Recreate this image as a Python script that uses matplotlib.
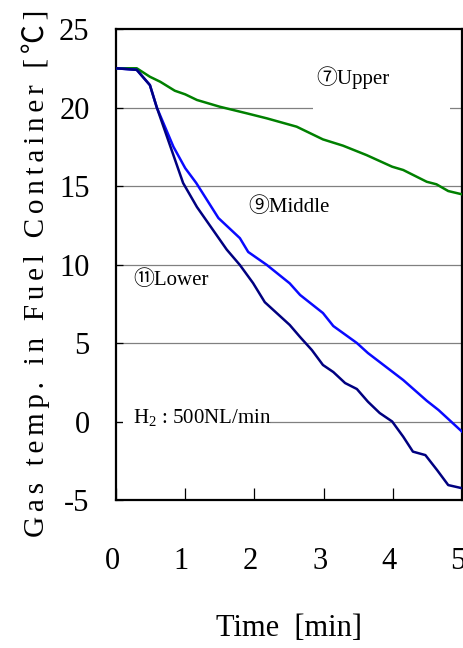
import numpy as np
import matplotlib
matplotlib.use("Agg")
import matplotlib.pyplot as plt
import matplotlib.transforms as mtransforms
from matplotlib.patches import Rectangle

plt.rcParams['font.family'] = ['Liberation Serif', 'DejaVu Sans']
plt.rcParams['mathtext.fontset'] = 'custom'
plt.rcParams['mathtext.rm'] = 'Liberation Serif'
plt.rcParams['mathtext.default'] = 'regular'
plt.rcParams['axes.unicode_minus'] = False

# valeurs (temps en min, temperature en degC)
t_upper = [0, 0.3, 0.49, 0.64, 0.85, 1.0, 1.17, 1.5, 1.89, 2.18, 2.61, 2.99, 3.28,
           3.62, 3.99, 4.15, 4.49, 4.63, 4.8, 5.0]
T_upper = [22.5, 22.5, 21.96, 21.64, 21.07, 20.84, 20.48, 20.05, 19.63, 19.31, 18.78,
           17.97, 17.57, 16.97, 16.23, 16.02, 15.27, 15.11, 14.68, 14.47]

t_middle = [0, 0.3, 0.49, 0.59, 0.83, 1.0, 1.16, 1.48, 1.79, 1.91, 2.18, 2.51, 2.66,
            2.99, 3.14, 3.48, 3.64, 4.15, 4.49, 4.66, 5.0]
T_middle = [22.5, 22.4, 21.43, 20.0, 17.5, 16.14, 15.19, 12.96, 11.68, 10.8, 9.97, 8.8,
            8.06, 6.91, 6.08, 5.0, 4.36, 2.64, 1.32, 0.73, -0.65]

t_lower = [0, 0.3, 0.49, 0.59, 0.97, 1.17, 1.6, 1.79, 1.98, 2.15, 2.51, 2.66, 2.83,
           2.99, 3.14, 3.31, 3.48, 3.64, 3.81, 3.99, 4.15, 4.29, 4.47, 4.64, 4.8, 5.0]
T_lower = [22.5, 22.4, 21.43, 20.0, 15.19, 13.66, 10.95, 9.97, 8.82, 7.6, 6.15, 5.38,
           4.55, 3.6, 3.15, 2.45, 2.07, 1.26, 0.54, 0.0, -0.97, -1.92, -2.14, -3.1,
           -4.05, -4.25]

xticks = [0, 1, 2, 3, 4, 5]
yticks = [-5, 0, 5, 10, 15, 20, 25]

fam = ['Liberation Serif', 'Noto Sans CJK JP', 'DejaVu Sans']

fig = plt.figure(figsize=(4.63, 6.48), dpi=100)
ax = fig.add_axes([0.2505, 0.2284, 0.7475, 0.7268])

for y in yticks[1:-1]:
    ax.axhline(y, color='#808080', lw=0.9, zorder=1)

# fonds blancs des etiquettes (comme dans excel)
ax.add_patch(Rectangle((2.85, 19.5), 1.98, 3.6, facecolor='white', edgecolor='none', zorder=2))
ax.add_patch(Rectangle((0.1, -0.9), 2.12, 2.0, facecolor='white', edgecolor='none', zorder=2))

ax.plot(t_upper, T_upper, color='#008000', lw=1.8, zorder=3)
ax.plot(t_middle, T_middle, color='#0a0aff', lw=1.8, zorder=3)
ax.plot(t_lower, T_lower, color='#000080', lw=1.8, zorder=3)

ax.text(2.9, 21.9, '⑦Upper', fontsize=15, va='center', ha='left', family=fam, zorder=4)
ax.text(1.91, 13.66, '⑨Middle', fontsize=15, va='center', ha='left', family=fam, zorder=4)
ax.text(0.25, 9.0, '⑪Lower', fontsize=15, va='center', ha='left', family=fam, zorder=4)
ax.text(0.25, 0.25, 'H$_2$ : 500NL/min', fontsize=15, va='center', ha='left', zorder=4)

ax.set_xlim(0, 5)
ax.set_ylim(-5, 25)
ax.set_xticks(xticks)
ax.set_yticks(yticks)
ax.tick_params(axis='x', direction='in', length=9, width=0.9, pad=34, labelsize=22)
ax.tick_params(axis='y', direction='in', length=5, width=0.9, pad=19, labelsize=22)
shift = mtransforms.ScaledTranslation(-4 / 100, 0, fig.dpi_scale_trans)
for lab in ax.get_xticklabels():
    lab.set_transform(lab.get_transform() + shift)
for s in ax.spines.values():
    s.set_linewidth(1.6)

fig.text(36 / 463, 1 - 273 / 648,
         '\u200a\u200a'.join('Gas temp. in Fuel Container [℃]'),
         rotation=90, ha='center', va='center', fontsize=21, family=fam)
fig.text(289 / 463, 1 - 628 / 648, 'Time  [min]', ha='center', va='center', fontsize=22)

fig.savefig('out.png', dpi=100)
